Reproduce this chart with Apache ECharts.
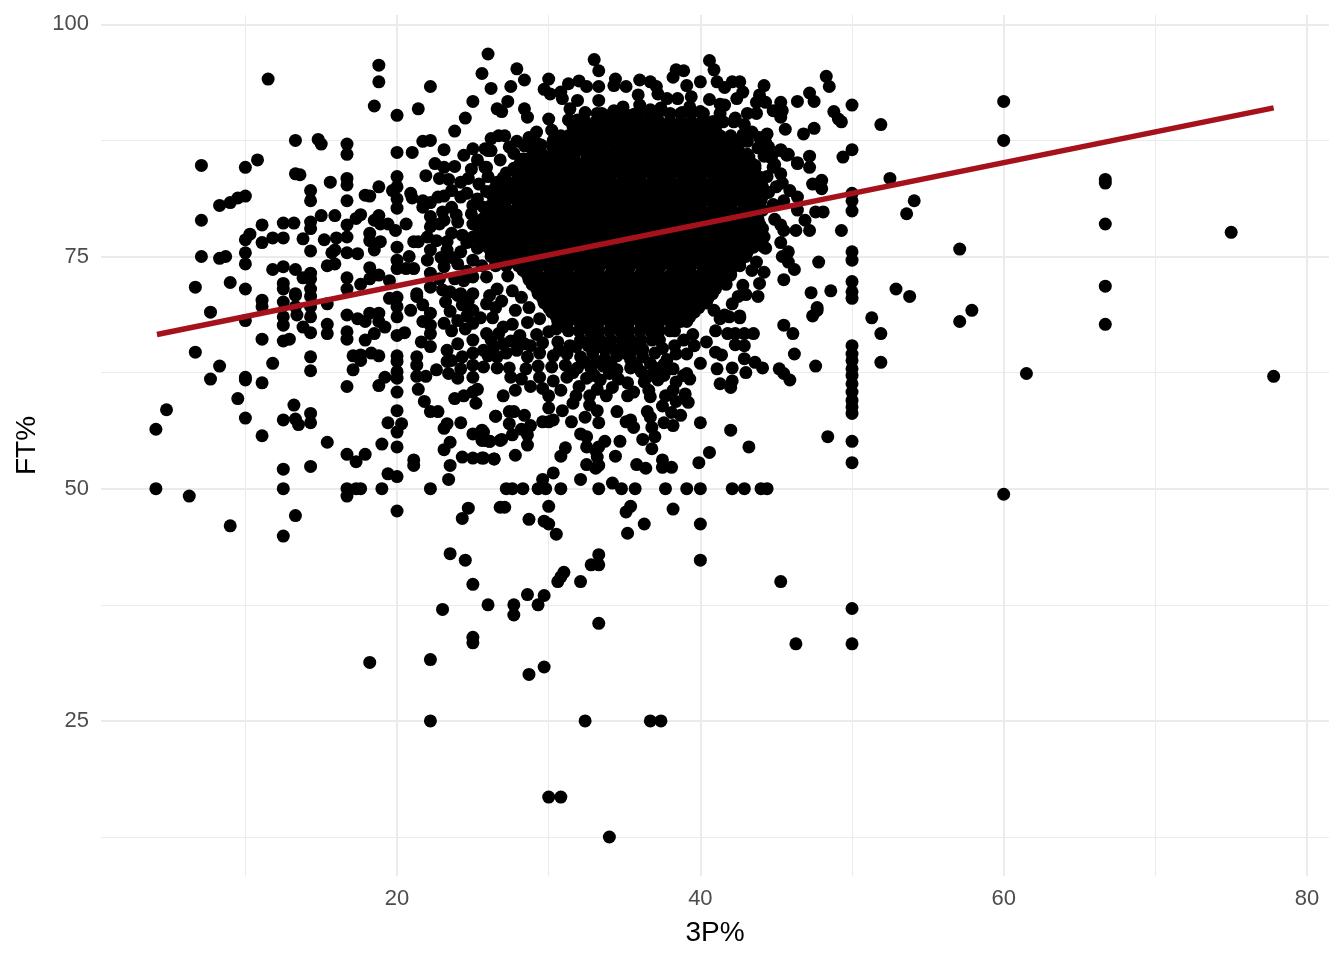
<!DOCTYPE html>
<html><head><meta charset="utf-8">
<style>html,body{margin:0;padding:0;background:#fff}#c{width:1344px;height:960px}</style>
<script src="https://cdn.jsdelivr.net/npm/echarts@6/dist/echarts.min.js"></script>
</head><body><div id="c"></div>
<script>
const xMajorTicks=[20,40,60,80];
const xMinorTicks=[10,30,50,70];
const yMajorTicks=[25,50,75,100];
const yMinorTicks=[12.5,37.5,62.5,87.5];
const trendLine=[[4.17,66.6],[77.8,91]];
const leftPoints=[[11.5,94.1],[18.8,95.6],[18.8,93.8],[18.5,91.2],[20,90.2],[22.2,93.3],[21.4,90.9],[25.6,94.7],[26.2,93.1],[25,91.7],[24.5,89.9],[23.8,88.5],[26.6,90.9],[13.3,87.5],[14.8,87.6],[15,87.1],[16.7,87.1],[16.7,86],[20,86.2],[21,86.2],[21.7,87.4],[22.2,87.5],[23.1,86.5],[7.1,84.8],[10,84.6],[10.8,85.4],[13.3,83.9],[13.6,83.8],[15.6,83],[16.7,83.4],[16.7,82.7],[18.8,82.5],[14.3,82.1],[14.3,81],[16.7,81],[20,83.6],[20,82.5],[19.7,82.1],[20,81.2],[20,80.2],[21.9,83.7],[17.9,81.6],[18.2,81.5],[20.9,81.8],[21,81.3],[21.7,81],[22.2,80.8],[21.7,80.3],[7.1,78.9],[8.3,80.5],[9,80.8],[9.5,81.3],[10,81.5],[15,79.4],[15.9,79.4],[14.3,78.7],[14.3,78],[16.7,78.4],[11.1,78.4],[12.5,78.6],[13.2,78.6],[17.6,79.5],[17.3,79.1],[18.8,79.4],[18.5,78.9],[18.9,78.5],[19.4,78.5],[20.6,78.5],[19.9,77.8],[10.3,77.4],[10,76.8],[11.8,77],[12.5,77],[11.1,76.5],[13.8,76.9],[15.2,76.8],[16,77],[16.7,77.1],[18.2,77.5],[18.2,76.7],[18.9,76.6],[18.5,75.7],[7.1,75],[8.3,74.8],[8.7,75],[10,75.4],[10,74.2],[14.3,75.6],[15.9,75.7],[15.7,75.4],[16.7,75.4],[17.4,75.3],[20,76],[21.1,76.6],[21.4,76.6],[20,74.6],[20.8,75],[20,73.7],[20.6,73.7],[21.1,73.7],[11.8,73.6],[12.5,73.9],[13.3,73.6],[14.3,73.2],[13.8,72.7],[14.3,72.6],[15.4,74],[15.9,74.2],[18.2,73.8],[18.8,73],[18.2,72.6],[17.6,72],[16.7,72.7],[16.7,71.5],[19.5,72.4],[6.7,71.7],[9,72.2],[10,71.5],[12.5,72.1],[12.5,71.5],[13.3,71],[14.3,71.5],[14.3,70.7],[11.1,70.3],[12.5,70.1],[7.7,69],[11.1,69.6],[12.5,68.5],[12.5,67.6],[13.3,70.8],[13.3,69.6],[13.4,68.7],[13.8,67.4],[14.3,69.6],[14.3,68.5],[14.3,66.8],[15.4,69.9],[15.4,67.7],[15.4,66.7],[10,68.1],[11.1,66.1],[12.5,65.9],[12.9,66.1],[16.7,68.7],[17.4,68.3],[17.9,68],[18.2,68.9],[18.8,68.9],[18.8,68],[19.2,67.4],[16.7,66.9],[16.7,66.1],[17.9,66],[18.5,66.7],[20,70.6],[20,69.6],[20,68.5],[19.5,70.5],[20,66.5],[20.5,66.8],[20.9,69.2],[21.3,70.7],[21.7,69.8],[22.2,68.9],[21.7,68],[22.2,67.6],[22.2,66.7],[6.7,64.7],[8.3,63.2],[7.7,61.8],[11.8,63.5],[14.3,64.2],[14.3,62.7],[17.1,64.3],[17.6,64.4],[17.6,63.8],[18.3,64.6],[18.8,64.3],[17.1,62.8],[20,64.3],[20,63.7],[20,62.6],[20,61.9],[19.2,62],[18.8,61.1],[16.7,61],[10,62],[10,61.7],[11.1,61.4],[21.6,65.8],[22.2,65.3],[21.3,64.2],[21.3,63.3],[21.3,62.1],[21.9,62.1],[22.6,62.8],[23.4,62.4],[24,61.9],[25,62],[23.3,64.9],[23.6,63.8],[24,65.6],[21.4,60.7],[20,60.4],[9.5,59.7],[21.8,59.4],[22.2,58.3],[22.7,58.3],[23.8,59.7],[24.4,60],[25,60.4],[25.3,60.7],[25.2,59.2],[13.2,59],[14.3,58.1],[14.3,57.1],[13.3,57.5],[13.5,56.9],[12.5,57.4],[10,57.6],[4.8,58.5],[4.1,56.4],[20,58.4],[20.3,57],[19.4,57.1],[20,56.1],[11.1,55.7],[15.4,55],[19,54.8],[20,54.5],[16.7,53.7],[17.3,52.9],[17.9,53.7],[23.1,56.5],[23.3,57],[24.2,57.1],[26.5,57.8],[25,55.9],[25.6,56.3],[25.8,55.2],[26.1,55.1],[26.8,55.2],[23.5,55],[23.1,54.2],[24.3,53.4],[25,53.3],[25.6,53.3],[26.4,53.2],[23.5,52.5],[23.4,51],[21.1,53.1],[21.1,52.5],[12.5,52.1],[14.3,52.4],[19.4,51.6],[20,51.3],[4.1,50],[6.3,49.2],[12.5,50],[16.7,50],[16.7,49.2],[17.3,50],[17.6,50],[19,50],[22.2,50],[13.3,47.1],[20,47.6],[24.7,47.9],[24.3,46.8],[9,46],[26.8,48],[12.5,44.9]];
const shoulderPoints=[[25,86.6],[26,86.4],[25.3,85.4],[25.9,84.6],[23.1,84.6],[23.8,84.7],[22.8,83.4],[24.7,83.4],[26,83.6],[23.6,82.1],[24.6,81.8],[24.2,81.4],[25.9,82],[25,80.5],[25.7,80.3],[23.6,80.3],[23,79.8],[22.2,79.3],[22.2,78.2],[22.8,78.5],[24,78.7],[25,78.5],[22,77.1],[22.6,76.7],[23.6,77.5],[25,77.1],[22.2,75.7],[23.3,75.7],[24.2,75.5],[25,74.6],[22,74.6],[23.1,73.9],[24,74.2],[22.2,73.2],[25,72.8],[25.9,72.8],[23.5,71.2],[24.2,71],[25,71],[21.3,71],[22.2,71.7],[23.2,70.1],[24,70.8],[24.3,69.8],[25,69.2],[25.9,69.9],[23.1,67.8],[24,68.1],[24.5,67.2],[25,67.8],[25.9,66.7],[25,66],[26.4,65.3],[25,64.6],[25.7,64.9],[24.3,64.2],[25,63.3],[25.7,63.1],[26.6,64.2],[24.2,62.9],[23.3,63.7],[24.4,85.9],[22.5,85],[24.9,84.4],[23.1,81.5],[24.9,79.6],[23.3,76.6],[24.6,76.5],[23.8,72.6],[24.6,73.4],[26.6,71.5],[26.9,70.2],[26.3,68.4],[27,67.4],[26.5,74.2],[27.3,72.9],[27.6,71.3],[28.2,70.6],[27.8,69.2],[28.7,69.5],[27.6,67.7],[28.6,67.9],[29.4,68.3],[28.1,66.5],[29.2,66.6],[30,66.9],[30.5,67.2],[23.4,83.3],[24.2,83],[25.4,82.8],[25.3,81.2],[22.7,81.4],[23.9,79.5],[23.1,78.9],[25.4,78],[24.3,77.3],[25.3,75.9],[22.9,74.9],[23.6,74.9],[25.6,74],[22.8,72.6],[24.4,72.4],[23,71.4],[26.1,70.8],[24.7,70.2],[23.5,69.1],[26.5,69.5],[24.6,68.6],[25.5,68.4],[23.6,67],[26.7,66.7],[27.5,65.9],[28.4,65.6]];
const topPoints=[[26,96.8],[27.9,95.2],[28.4,94],[27.5,93.3],[27.3,91.7],[26.9,90.6],[28.4,90.9],[28.6,90],[33,96.2],[33.3,95],[33.3,93.3],[30,94.1],[29.7,93],[30.1,92.5],[31.3,93.6],[30.8,92.7],[30.9,92],[32,93.9],[32.5,93.3],[31.9,91.8],[33.3,91.8],[34.4,94.1],[34.3,93.4],[35.1,93.3],[36,94],[36.7,93.8],[37.1,93.3],[37.2,92.5],[35.9,92.4],[36,91.3],[38.4,95.1],[38.9,95],[38.2,94.3],[39.1,93.4],[40,93.8],[40.6,96.1],[40.9,95.1],[40.6,91.9],[41.1,93.8],[41.6,93.2],[42.1,93.8],[42.6,93.8],[42.8,92.7],[39.4,92.2],[42.4,92],[44.2,93.4],[43.9,92.4],[43.7,91.6],[44.3,91.6],[45.3,91.6],[45.4,90.7],[45.3,90],[44.8,90.7],[46.4,91.7],[47.2,92.6],[47.5,91.7],[48.3,94.4],[48.5,93.3],[50,91.3],[48.8,90.6],[49.1,89.8],[49.3,89.5],[45.6,88.7],[46.8,88.2],[47.5,88.8],[51.9,89.2],[50,86.5],[49.4,85.7],[45.3,86.5],[45.7,85.9],[46.4,85],[47.2,85.8],[47.2,84.6],[48,83.2],[44.3,87.3],[44.4,88.2],[44.2,85.8],[44.7,85.8],[43.2,85.7],[31.3,89.7],[31.4,90.9],[30,89.8],[29.2,88.4],[29.3,87.1],[28.9,86.6],[30,85.7],[26.7,88],[27.1,88],[26.2,87.7],[25.8,86.6],[26.2,86.4],[27.4,86.8],[27.7,86.1],[28.3,85.5],[26.8,85.4],[25.8,84.6],[34.3,90.7],[34.9,91.1],[31.9,89.7],[33.2,90.4],[37.8,92],[38.5,92],[39.3,91.1],[40,90.6],[41.6,91.3],[41.3,91.4],[43.1,90.4],[43.7,90.4],[40.9,89.5],[41.3,90.4],[32.4,90.5],[35.6,90.3],[36.7,90.8],[37.4,91],[38.8,90.5],[42.3,89.9],[42.9,89.2],[43.4,88.4],[30.2,88.6],[30.6,87.3],[28.6,83.9],[27.8,84.5],[43.1,87.4],[43.8,86.7],[43.9,87.8],[42.8,88.1],[44.9,84.9],[43.6,84.8],[44.5,86.8],[27.9,87.4],[28.4,86.9],[28.7,87.8]];
const rightPoints=[[52.5,83.4],[45.3,86.4],[45.8,86],[44.6,85.7],[46.4,85.1],[47.4,82.8],[48,82.3],[45.9,82.1],[46.4,81.4],[50,81.8],[50,81],[50,79.9],[47.6,79.8],[48.1,79.8],[46.4,80],[45.5,81],[44.8,80.6],[46.9,78.9],[47.2,77.8],[46.3,77.8],[49.3,77.8],[45.3,78.4],[45.5,77.8],[45.3,76.5],[45.8,75.5],[45.8,74.4],[46.2,73.6],[47.8,74.4],[50,75.5],[50,74.6],[44.2,76],[44.3,75.9],[43.6,77.8],[44.2,77.1],[43.7,74.4],[43.4,73.5],[44.2,73.3],[42.8,71.9],[42.5,70.7],[42.1,69.9],[41.4,68.5],[41.9,68.5],[45.3,83.9],[45.4,82.9],[45,82.5],[44.4,83.6],[45.5,72.5],[50,72.3],[50,71.2],[50,70.5],[47.3,71.1],[48.6,71.3],[52.9,71.5],[47.7,69.5],[47.4,68.6],[51.3,68.4],[45.5,67.6],[43.8,70.7],[42.6,68.4],[50,65.4],[50,64.5],[50,63.8],[50,62.9],[50,62.2],[50,61.3],[50,60.4],[50,59.5],[50,58.8],[50,58.1],[50,55.1],[50,52.8],[48.4,55.6],[47.6,63.2],[47.7,69.2],[51.9,66.7],[51.9,63.6],[46.1,66.7],[46.2,64.5],[45.2,62.9],[45.5,62.4],[45.9,61.7],[42.6,68.6],[41.6,68.7],[41.3,68.3],[41,67],[41.8,66.7],[42.3,66.7],[42.9,66.7],[43.5,66.7],[42.3,65.5],[42.9,65.4],[41,64.7],[41.4,64.4],[42.9,64],[43.6,63.6],[44.1,63],[41.1,62.9],[42.1,63],[43,62.5],[41.3,61.3],[42.1,61.6],[42,60.9],[40,63.5],[39.1,64.5],[39.6,65.4],[40.4,65.8],[38.9,62.2],[39.3,61.8],[39.1,62.4],[40,57.1],[42,56.3],[43.2,54.5],[40.6,53.9],[39.9,52.8],[42.1,50],[42.9,50],[44,50],[44.4,50],[40,50],[60,91.7],[60,87.5],[53.6,79.6],[54.1,81],[57.1,75.8],[53.8,70.7],[57.1,68],[57.9,69.2],[61.5,62.4],[60,49.4],[66.7,83.3],[66.7,82.9],[66.7,78.5],[66.7,71.8],[66.7,67.7],[75,77.6],[77.8,62.1],[50,37.1],[50,33.3],[46.3,33.3],[45.3,40],[40,42.3],[40,46.2],[45.4,75],[44.9,79],[44.5,81.9],[44.8,84.6],[43.9,72.1],[43,70.9],[40.9,69.2]];
const lowerPoints=[[39.1,50],[37.7,50],[35.7,50],[34.8,50],[34.2,50.6],[33.3,50],[32.1,51],[30.8,50],[29.8,50],[29.3,50],[29.6,51],[30.3,51.7],[28.3,50],[27.6,50],[27.2,50],[27.1,48],[30,48.1],[28.7,46.7],[29.7,46.5],[30,46.2],[30.5,45.1],[35.4,48.1],[35.1,47.5],[38.2,47.8],[36.3,46.2],[35.2,45.2],[35.8,52.6],[36.4,52.2],[37.5,53.1],[37.5,52.3],[38.1,52.3],[36.8,54.3],[36.2,55.3],[37,55.6],[34.4,53.5],[34.7,55.1],[32.5,52.6],[33.1,52.2],[33.3,52.5],[33.2,53.4],[33.1,54.1],[32.5,54.5],[33.7,55.1],[33.3,54.5],[30.8,53.5],[31.1,54.4],[32.1,55.9],[32.5,55.6],[27.8,53.6],[26.4,53.2],[25.7,53.3],[28.6,54.7],[27.6,55.8],[28.6,55.8],[26.9,55.3],[26.1,55.1],[25.7,56.1],[25.6,55.2],[26.5,57.8],[27.4,58.3],[27.7,58.3],[28.4,57.9],[27.4,57],[28.2,56.4],[28.8,56.8],[29.6,57.2],[30,57.2],[30.3,57.4],[31.5,57.2],[32.4,57.7],[33.3,57.1],[34.5,58.3],[35.1,57.2],[35.6,56.6],[35.4,57.4],[30,58.7],[30.9,58.4],[31.6,59.2],[32.7,59],[33.2,58.4],[36.7,57.7],[36.8,56.6],[37.6,57.1],[38.2,56.8],[38.1,58.2],[38.7,57.9],[37.5,58.9],[36.5,58.3],[39.2,59.3],[38.4,59.4],[39,60.2],[27,60],[27.8,60.6],[28.8,61],[30,60],[30.8,60.6],[31.8,60],[32.7,60],[33.8,60],[35.2,60],[36.7,59.9],[37.7,60],[38.2,60.6],[23.5,43],[24.5,42.3],[25,39.7],[23,37],[26,37.5],[25,34],[25,33.4],[27.7,36.4],[27.7,37.5],[28.6,38.6],[29.7,38.5],[29.3,37.5],[28.7,30],[29.7,30.8],[22.2,31.6],[18.2,31.3],[22.2,25],[32.4,25],[36.7,25],[37.4,25],[30,16.8],[30.8,16.8],[34,12.5],[33.3,35.5],[32.1,40],[30.6,40],[30.8,40.5],[31,41],[32.8,41.8],[33.3,42.9],[33.3,41.8],[26.2,66],[27,65.6],[27.9,66],[28.8,65.4],[29.6,65.7],[30.6,65.8],[31.4,65.4],[26,64.3],[27.2,64.6],[27.9,64.9],[28.6,64.2],[29.4,64.6],[30.3,64.3],[31.2,64.5],[32.1,64.2],[32.9,64.6],[33.7,64],[34.5,64.3],[35.4,63.9],[36.2,64.2],[37,64.6],[37.8,63.9],[38.4,64.5],[26.6,63],[27.4,63],[28.5,62.9],[29.3,63.2],[30.2,63.1],[31.1,63.3],[31.9,63],[32.8,62.9],[33.6,63.2],[34.5,62.8],[35.4,63],[36.1,62.6],[37,63],[37.6,63.4],[38.2,62.9],[27.5,62],[28.2,61.8],[29.4,62],[30.3,61.6],[31.2,62],[32.5,61.9],[33.4,61.7],[34.6,61.8],[35.2,61.4],[36.3,61.5],[37.2,61.7],[38.4,61.5],[29.6,60.8],[32,61],[33.2,60.7],[34.2,60.9],[35.6,60.4],[36.6,60.6],[30.7,64.9],[31.8,65.3],[32.6,65.4],[37.5,65.1],[38.3,65.4],[38.9,66],[39.5,66.6],[32.4,63.6],[33.2,63.7],[34.1,63.5],[35,64.6],[35.8,63.2],[36.7,63.5],[31.6,62.5],[33,62.2],[34,62.4],[36.7,62.2],[37.6,62.2]];
const coreFT=[90.4,89.5,89,88,87,86,85,84,83,82,81,80,79,78,77,76,75,74,73,72,71,70,69,68,67,66,65];
const core3P=[
[33.5,34.2,35,35.8,36.5,37.2,38,38.7,39.4,40.2],
[31.7,32.4,33.1,33.8,34.5,35.2,35.9,36.6,37.3,38,38.7,39.4,40.1,40.8,41.5,42.2],
[31.6,32.3,33,33.6,34.3,35,35.7,36.3,37,37.7,38.3,39,39.7,40.3,41],
[30.8,31.3,31.9,32.6,33.3,33.9,34.6,35.3,36,36.6,37.3,38,38.6,39.3,40,40.6,41.3,42],
[29.5,30.2,30.9,31.6,32.2,32.9,33.6,34.3,34.9,35.6,36.3,37,37.6,38.3,39,39.6,40.3,41,41.7,42.4],
[29,29.6,30.3,31,31.7,32.5,33.2,33.8,34.5,35.2,35.9,36.6,37.3,37.9,38.6,39.3,40,40.6,41.3,42,42.7,43.1],
[28.1,28.8,29.5,30.2,30.9,31.6,32.2,32.9,33.6,34.3,34.9,35.6,36.3,37,37.6,38.3,39,39.6,40.3,41,41.7,42.3,43,43.4],
[27.2,27.9,28.6,29.3,29.9,30.6,31.3,32,32.6,33.3,34,34.7,35.3,36,36.7,37.3,38,38.7,39.4,40,40.7,41.4,42.1,42.7,43.4],
[26.6,27.3,28,28.7,29.4,30,30.7,31.4,32.1,32.8,33.4,34.1,34.8,35.4,36.1,36.8,37.5,38.1,38.8,39.5,40.1,40.8,41.5,42.2,42.8,43.5,44],
[26.2,26.9,27.6,28.3,29,29.6,30.3,31,31.7,32.3,33,33.7,34.4,35,35.7,36.4,37,37.7,38.4,39.1,39.7,40.4,41.1,41.7,42.4,43.1,43.8,44.3],
[26.5,27.2,27.9,28.6,29.3,30,30.6,31.3,32,32.7,33.3,34,34.7,35.3,36,36.7,37.4,38,38.7,39.4,40,40.7,41.4,42.1,42.7,43.4,44],
[26,26.6,27.3,28,28.7,29.3,30,30.7,31.4,32,32.7,33.4,34,34.7,35.4,36.1,36.7,37.4,38.1,38.7,39.4,40.1,40.8,41.4,42.1,42.8,43.4,44.1],
[25.6,26.3,27,27.7,28.3,29,29.7,30.4,31,31.7,32.4,33,33.7,34.4,35.1,35.7,36.4,37.1,37.8,38.4,39.1,39.8,40.4,41.1,41.8,42.5,43.1,43.8],
[25.9,26.6,27.3,28,28.7,29.3,30,30.7,31.4,32,32.7,33.4,34.1,34.7,35.4,36.1,36.7,37.4,38.1,38.8,39.4,40.1,40.8,41.5,42.1,42.8,43.5,44.1],
[25.6,26.3,27,27.7,28.3,29,29.7,30.4,31,31.7,32.4,33,33.7,34.4,35.1,35.7,36.4,37.1,37.8,38.4,39.1,39.8,40.4,41.1,41.8,42.5,43.1,43.8],
[26,26.7,27.3,28,28.7,29.4,30,30.7,31.4,32.1,32.7,33.4,34.1,34.7,35.4,36.1,36.8,37.4,38.1,38.8,39.4,40.1,40.8,41.5,42.1,42.8,43.5],
[26.2,26.9,27.6,28.3,29,29.7,30.3,31,31.7,32.3,33,33.7,34.4,35,35.7,36.4,37,37.7,38.4,39.1,39.7,40.4,41.1,41.7,42.4,43],
[26.5,27.2,28,28.7,29.4,30,30.7,31.4,32,32.7,33.4,34.1,34.7,35.4,36.1,36.7,37.4,38.1,38.7,39.4,40.1,40.7,41.4,42,42.6],
[28.6,29.3,30,30.6,31.3,32,32.7,33.3,34,34.7,35.3,36,36.7,37.3,38,38.7,39.4,40,40.7,41.4,42],
[28.9,29.6,30.3,31,31.7,32.3,33,33.7,34.3,35,35.7,36.4,37,37.7,38.4,39,39.7,40.4,41,41.7],
[29.3,30,30.7,31.3,32,32.7,33.4,34,34.7,35.4,36,36.7,37.4,38,38.7,39.4,40.1,40.8],
[29.7,30.4,31,31.7,32.4,33,33.7,34.4,35,35.7,36.4,37.1,37.7,38.4,39.1,39.7,40.4],
[30.2,30.8,31.5,32.2,32.9,33.5,34.2,34.9,35.5,36.2,36.9,37.5,38.2,38.9,39.6],
[30.6,31.3,32,32.6,33.3,34,34.6,35.3,36,36.7,37.3,38,38.7,39.1],
[31.3,32,32.7,33.3,34,34.7,35.3,36,36.7,37.3,38,38.3],
[32.1,32.8,33.4,34.1,34.8,35.4,36.1,36.8,37.3],
[33,33.7,34.3,35,35.7,36.2]
];
const fillFT=[88.5,87.5,86.5,85.5,84.5,83.5,82.5,81.5,80.5,79.5,78.5,77.5,76.5,75.5,74.5,73.5,72.5,71.5,70.5,69.5,68.5,67.5];
const fill3P=[
[32,33,34,35,36,37,38,39,40,41],
[30.3,31.3,32.3,33.3,34.3,35.3,36.3,37.3,38.3,39.3,40.3,41.3,42.2],
[29.4,30.4,31.4,32.4,33.4,34.4,35.4,36.4,37.4,38.4,39.4,40.4,41.4,42.5],
[28.6,29.6,30.6,31.6,32.6,33.6,34.6,35.6,36.6,37.6,38.6,39.6,40.6,41.6,42.6,43.1],
[27.7,28.7,29.7,30.7,31.7,32.7,33.7,34.7,35.7,36.7,37.7,38.7,39.7,40.7,41.7,42.7,43.6],
[27,28,29,30,31,32,33,34,35,36,37,38,39,40,41,42,43,44],
[26.5,27.3,28.3,29.3,30.3,31.3,32.3,33.3,34.3,35.3,36.3,37.3,38.3,39.3,40.3,41.3,42.3,43.3,44.1],
[26.3,27.2,28.2,29.2,30.2,31.2,32.2,33.2,34.2,35.2,36.2,37.2,38.2,39.2,40.2,41.2,42.2,43.2,44.1],
[26.2,27,28,29,30,31,32,33,34,35,36,37,38,39,40,41,42,43,43.9],
[25.9,26.7,27.7,28.7,29.7,30.7,31.7,32.7,33.7,34.7,35.7,36.7,37.7,38.7,39.7,40.7,41.7,42.7,43.7],
[25.7,26.9,27.9,28.9,29.9,30.9,31.9,32.9,33.9,34.9,35.9,36.9,37.9,38.9,39.9,40.9,41.9,42.9,43.9],
[25.7,26.7,27.7,28.7,29.7,30.7,31.7,32.7,33.7,34.7,35.7,36.7,37.7,38.7,39.7,40.7,41.7,42.7,43.7],
[25.9,26.9,27.9,28.9,29.9,30.9,31.9,32.9,33.9,34.9,35.9,36.9,37.9,38.9,39.9,40.9,41.9,42.9,43.7],
[26.2,27.1,28.1,29.1,30.1,31.1,32.1,33.1,34.1,35.1,36.1,37.1,38.1,39.1,40.1,41.1,42.1,43.1],
[26.7,27.6,28.6,29.6,30.6,31.6,32.6,33.6,34.6,35.6,36.6,37.6,38.6,39.6,40.6,41.6,42.6],
[28.3,29.2,30.2,31.2,32.2,33.2,34.2,35.2,36.2,37.2,38.2,39.2,40.2,41.2,42],
[28.7,29.7,30.7,31.7,32.7,33.7,34.7,35.7,36.7,37.7,38.7,39.7,40.7,41.6],
[29.2,30.2,31.2,32.2,33.2,34.2,35.2,36.2,37.2,38.2,39.2,40.2,41],
[29.6,30.6,31.6,32.6,33.6,34.6,35.6,36.6,37.6,38.6,39.6,40.5],
[30,31,32,33,34,35,36,37,38,39,39.9],
[30.5,31.5,32.5,33.5,34.5,35.5,36.5,37.5,38.5,39.3],
[31,32.2,33.2,34.2,35.2,36.2,37.2,38.2]
];
const corePoints=core3P.flatMap((row,i)=>row.map(x=>[x,coreFT[i]]));
const fillPoints=fill3P.flatMap((row,i)=>row.map(x=>[x,fillFT[i]]));
const allPoints=[...leftPoints,...shoulderPoints,...topPoints,...rightPoints,...lowerPoints,...corePoints,...fillPoints];

const xMin=0.48,xMax=81.45,yMin=8.3,yMax=101;
const fontFam='"Liberation Sans",Arial,sans-serif';
function minorAxis(min,max,ticks,pos){return {type:'value',min,max,position:pos,axisLine:{show:false},axisTick:{show:false,customValues:ticks},axisLabel:{show:false},
  splitLine:{show:true,lineStyle:{color:'#ebebeb',width:1}}};}
function mainAxis(min,max,ticks,pos,name,gap,margin){return {type:'value',min,max,position:pos,name,nameLocation:'middle',nameGap:gap,
  nameTextStyle:{color:'#000',fontSize:28,fontFamily:fontFam},
  axisLine:{show:false},axisTick:{show:false,customValues:ticks},
  axisLabel:{show:true,color:'#4d4d4d',fontSize:22,margin,fontFamily:fontFam,customValues:ticks,hideOverlap:false},
  splitLine:{show:true,lineStyle:{color:'#ebebeb',width:2}}};}
const chart=echarts.init(document.getElementById('c'),null,{renderer:'canvas'});
chart.setOption({animation:false,backgroundColor:'#fff',
  grid:{left:101,right:15,top:15,bottom:84,containLabel:false,outerBoundsMode:'none'},
  xAxis:[mainAxis(xMin,xMax,xMajorTicks,'bottom','3P%',43,12),minorAxis(xMin,xMax,xMinorTicks,'bottom')],
  yAxis:[mainAxis(yMin,yMax,yMajorTicks,'left','FT%',60,12),minorAxis(yMin,yMax,yMinorTicks,'left')],
  series:[
    {type:'scatter',xAxisIndex:0,yAxisIndex:0,data:allPoints,symbolSize:13,large:false,progressive:0,itemStyle:{color:'#000',opacity:1},z:3},
    {type:'line',xAxisIndex:0,yAxisIndex:0,data:trendLine,symbol:'none',silent:true,lineStyle:{color:'#a6121c',width:5.4,cap:'butt'},z:4}
  ]});
</script></body></html>
